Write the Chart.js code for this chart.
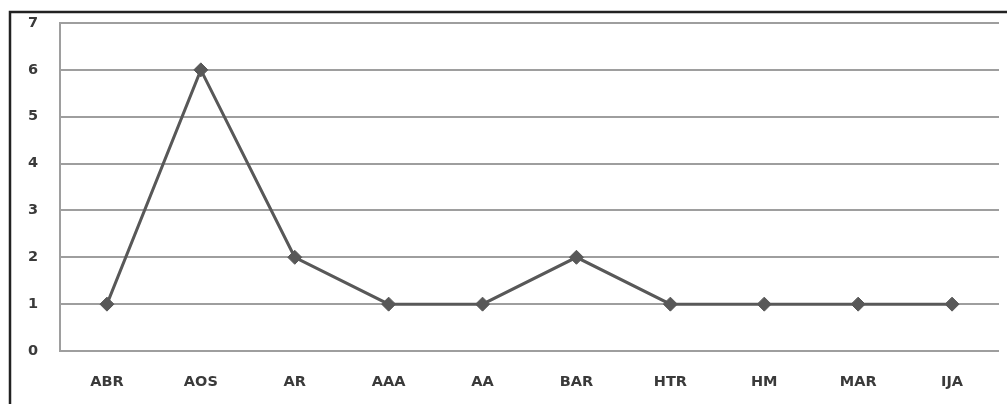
<!DOCTYPE html>
<html>
<head>
<meta charset="utf-8">
<script src="https://cdn.jsdelivr.net/npm/chart.js@4/dist/chart.umd.min.js"></script>
<style>
  html, body { margin: 0; padding: 0; background: #fff; }
  #wrap { width: 1007px; height: 404px; position: relative; }
</style>
</head>
<body>
<div id="wrap"><canvas id="c" width="1007" height="404"></canvas></div>
<script>
const categories = ['ABR', 'AOS', 'AR', 'AAA', 'AA', 'BAR', 'HTR', 'HM', 'MAR', 'IJA'];
const counts = [1, 6, 2, 1, 1, 2, 1, 1, 1, 1];
const yTicks = [0, 1, 2, 3, 4, 5, 6, 7];

// Dark frame along the left and top edges of the figure
const framePlugin = {
  id: 'frame',
  beforeDraw(chart) {
    const ctx = chart.ctx;
    ctx.save();
    ctx.strokeStyle = '#222';
    ctx.lineWidth = 2.5;
    ctx.beginPath();
    ctx.moveTo(10, 404);
    ctx.lineTo(10, 12);
    ctx.lineTo(1007, 12);
    ctx.stroke();
    ctx.restore();
  }
};

const tickFont = { family: 'DejaVu Sans', size: 14.5, weight: 'bold' };

new Chart(document.getElementById('c'), {
  type: 'line',
  data: {
    labels: categories,
    datasets: [{
      data: counts,
      borderColor: '#585858',
      borderWidth: 3,
      pointStyle: 'rectRot',
      pointRadius: 7,
      pointHoverRadius: 7,
      pointBackgroundColor: '#585858',
      pointBorderColor: '#585858',
      pointBorderWidth: 1,
      tension: 0
    }]
  },
  options: {
    responsive: false,
    animation: false,
    devicePixelRatio: 1,
    layout: { padding: { left: 28, top: 23, right: 4, bottom: 0 } },
    plugins: { legend: { display: false }, tooltip: { enabled: false } },
    scales: {
      x: {
        offset: true,
        grid: { display: false, drawTicks: false },
        border: { display: false },
        ticks: { color: '#3a3a3a', font: tickFont, padding: 23, maxRotation: 0 },
        afterFit(scale) { scale.height = 53; }
      },
      y: {
        min: 0,
        max: 7,
        afterBuildTicks(scale) { scale.ticks = yTicks.map(v => ({ value: v })); },
        grid: { color: '#9e9e9e', lineWidth: 2, drawTicks: false },
        border: { display: true, color: '#9e9e9e', width: 2 },
        ticks: { color: '#3a3a3a', font: tickFont, padding: 0, crossAlign: 'far' },
        afterFit(scale) { scale.width = 32; }
      }
    }
  },
  plugins: [framePlugin]
});
</script>
</body>
</html>
